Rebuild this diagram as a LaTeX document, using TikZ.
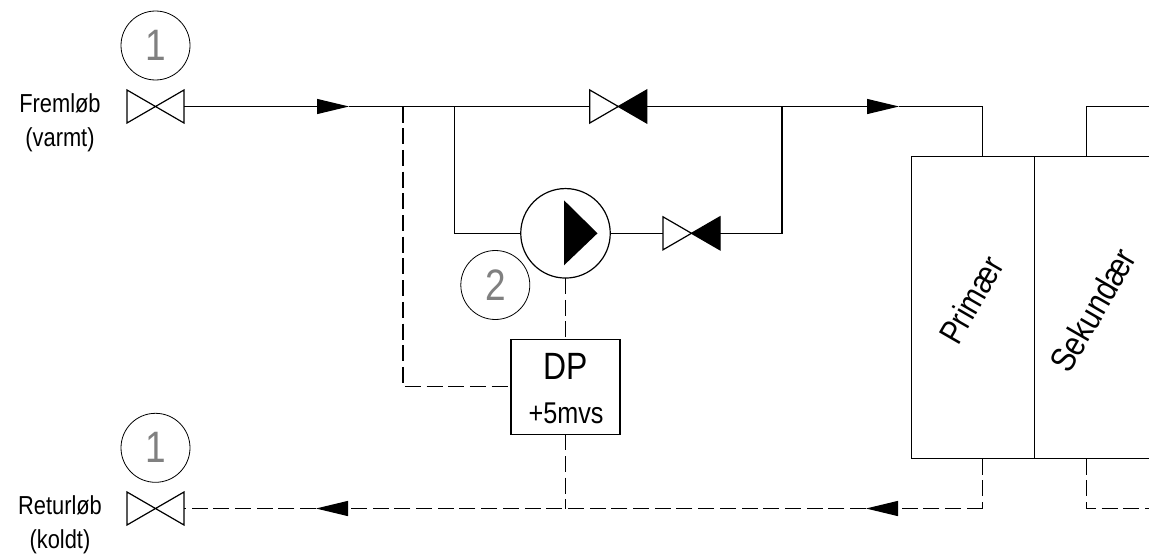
\documentclass[tikz,border=0pt]{standalone}
\usepackage{fontspec}
\setmainfont[FakeStretch=0.84]{Liberation Sans}
\usetikzlibrary{arrows.meta}
\tikzset{>=latex}
\tikzset{
  pipe/.style={line width=1.2pt,black},
  pipedash/.style={pipe,dash pattern=on 16pt off 5.7pt},
  flowtip/.style={-{Triangle[length=32pt,width=15pt,sep=0pt]}},
  tag/.style={circle,draw,line width=0.8pt,minimum size=69pt,inner sep=0pt,outer sep=0pt,font=\fontsize{44}{44}\selectfont,text=black!50},
  side/.style={align=center,font=\fontsize{26}{34}\selectfont,inner sep=0pt},
  unit/.style={draw,line width=1.2pt,inner sep=0pt,outer sep=0pt},
  valve/.style={minimum width=57pt,minimum height=33pt,inner sep=0pt,outer sep=0pt,
    append after command={\pgfextra{\let\thevalve\tikzlastnode
      \draw[line width=1.2pt,fill=white] (\thevalve.north west) -- (\thevalve.south east) -- (\thevalve.north east) -- (\thevalve.south west) -- cycle;}}},
  valvefull/.style={minimum width=57pt,minimum height=33pt,inner sep=0pt,outer sep=0pt,
    append after command={\pgfextra{\let\thevalve\tikzlastnode
      \draw[line width=1.2pt,fill=white] (\thevalve.north west) -- (\thevalve.center) -- (\thevalve.south west) -- cycle;
      \fill[draw,line width=1.2pt] (\thevalve.north east) -- (\thevalve.center) -- (\thevalve.south east) -- cycle;}}},
}
\begin{document}
\begin{tikzpicture}[x=1pt,y=-1pt]
\useasboundingbox (0,0) rectangle (1149,554);

\node[valve] (vin) at (155.5,106.5) {};
\node[valve] (vout) at (155.5,508.5) {};
\node[valvefull] (vtop) at (618.3,106.5) {};
\node[valvefull] (vpump) at (691.5,233.3) {};
\node[tag] (tagin) at (155.5,45.5) {1};
\node[tag] (tagout) at (155.5,447.8) {1};
\node[tag] (tagpump) at (495.3,285) {2};
\node[side] (lblin) at (60,123) {Fremløb\\(varmt)};
\node[side] (lblout) at (60,525) {Returløb\\(koldt)};

\node[unit,circle,minimum size=89.5pt] (pump) at (565.5,233.3) {};
\path[fill] (pump.center) ++(-1.5,-33) coordinate (pa) -- ++(33.5,33) coordinate (pb) -- ++(-33.5,32) coordinate (pc) -- cycle;
\node[unit,minimum width=109pt,minimum height=95pt] (dp) at (565.5,386.8) {};
\node[font=\fontsize{38}{38}\selectfont,inner sep=0pt] (dpname) at (565.5,366) {DP};
\node[font=\fontsize{30}{30}\selectfont,inner sep=0pt] (dpset) at (566,413) {+5mvs};

\node[unit,minimum width=123pt,minimum height=302.4pt] (prim) at (972.8,307.5) {};
\coordinate (secn) at (1149,156.3);
\coordinate (secs) at (1149,458.7);
\draw[pipe] (prim.north east) -- (secn);
\draw[pipe] (prim.south east) -- (secs);
\node[rotate=60,font=\fontsize{34}{34}\selectfont,inner sep=0pt] (primtxt) at (971,300) {Primær};
\node[rotate=60,font=\fontsize{35}{35}\selectfont,inner sep=0pt] (sectxt) at (1093,310) {Sekundær};

\coordinate (ain) at (349,106.5);
\coordinate (tee) at (403,106.5);
\coordinate (byl) at (454.5,106.5);
\coordinate (byr) at (782,106.5);
\coordinate (bot) at (454.5,233.3);
\coordinate (bor) at (782,233.3);
\coordinate (aex) at (899,106.5);
\coordinate (pin) at (982.7,106.5);
\coordinate (sin) at (1086.3,106.5);
\coordinate (sout) at (1149,106.5);
\coordinate (rin) at (982.7,508.5);
\coordinate (aret) at (866,508.5);
\coordinate (tret) at (565.5,508.5);
\coordinate (alft) at (316,508.5);
\coordinate (sret) at (1086.3,508.5);
\coordinate (sbot) at (1149,508.5);
\coordinate (dpl) at (403,386.8);

% supply side
\draw[pipe,flowtip] (vin.east) -- (ain);
\draw[pipe] (ain) -- (vtop.west);
\draw[pipe,flowtip] (vtop.east) -- (aex);
\draw[pipe] (aex) -- (pin) -- (prim.north -| pin);
\draw[pipe] (byl) -- (bot) -- (pump.west);
\draw[pipe] (pump.east) -- (vpump.west);
\draw[pipe] (vpump.east) -- (bor) -- (byr);
\draw[pipe] (prim.north -| sin) -- (sin) -- (sout);

% return side
\draw[pipedash] (prim.south -| rin) -- (rin);
\draw[pipedash,flowtip] (rin) -- (aret);
\draw[pipedash,flowtip] (aret) -- (alft);
\draw[pipedash] (alft) -- (vout.east);
\draw[pipedash] (prim.south -| sin) -- (sret) -- (sbot);

% pressure lines
\draw[pipedash] (tee) -- (dpl) -- (dp.west);
\draw[pipedash] (pump.south) -- (dp.north);
\draw[pipedash] (dp.south) -- (tret);
\end{tikzpicture}
\end{document}
